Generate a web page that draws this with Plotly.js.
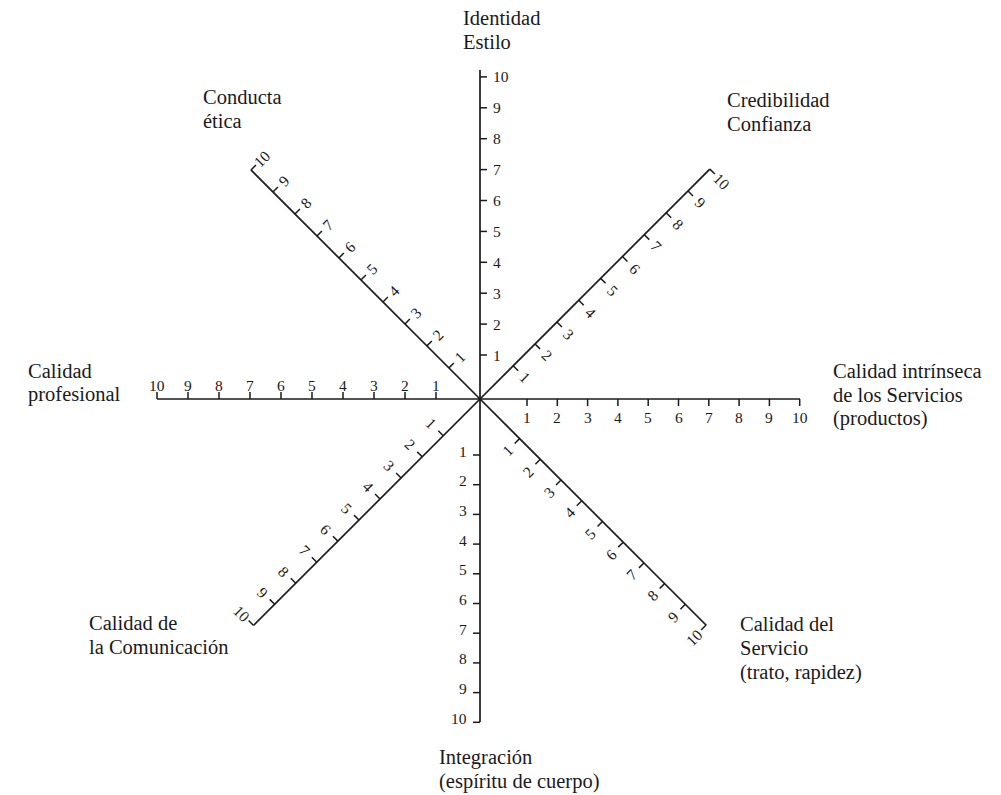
<!DOCTYPE html>
<html><head><meta charset="utf-8">
<script src="https://cdn.plot.ly/plotly-3.0.1.min.js"></script>
<style>html,body{margin:0;padding:0;background:#fff}#chart{width:1001px;height:795px}</style>
</head><body><div id="chart"></div>
<script>
// ---- data ----
const axisNames = ["Identidad","Credibilidad","Calidad intrínseca","Calidad del Servicio","Integración","Calidad de la Comunicación","Calidad profesional","Conducta ética"];
const axisLabelLines = [
  ["Identidad","Estilo"],
  ["Credibilidad","Confianza"],
  ["Calidad intrínseca","de los Servicios","(productos)"],
  ["Calidad del","Servicio","(trato, rapidez)"],
  ["Integración","(espíritu de cuerpo)"],
  ["Calidad de","la Comunicación"],
  ["Calidad","profesional"],
  ["Conducta","ética"]
];
const scaleValues = [1,2,3,4,5,6,7,8,9,10];
const tickLabels = ["1","2","3","4","5","6","7","8","9","10"];

// ---- geometry / style (layout only) ----
const C = {x:480, y:399};
const geom = [
  {a:90,  s0:44, st:30.9, end:329, off:11, xa:'left',   ya:'middle', ta:0,   dy:0},
  {a:45,  s0:47, st:30.9, end:325, off:17, xa:'center', ya:'middle', ta:45,  dy:0},
  {a:0,   s0:47, st:30.3, end:320, off:18, xa:'center', ya:'middle', ta:0,   dy:0},
  {a:-45, s0:56, st:29.3, end:320, off:17, xa:'center', ya:'middle', ta:-45, dy:0},
  {a:-90, s0:56, st:29.7, end:323, off:11, xa:'right',  ya:'middle', ta:0,   dy:-4},
  {a:-135,s0:52, st:29.8, end:320, off:17, xa:'center', ya:'middle', ta:45,  dy:0},
  {a:180, s0:44, st:31.0, end:323, off:14, xa:'center', ya:'middle', ta:0,   dy:0},
  {a:135, s0:44, st:31.1, end:324, off:16, xa:'center', ya:'middle', ta:-45, dy:0}
];
const namePos = [
  {x:461, y:[18,42]},
  {x:725, y:[100,124]},
  {x:831, y:[371,395,418]},
  {x:738, y:[624,648,672]},
  {x:437, y:[757,781]},
  {x:87,  y:[623,647]},
  {x:26,  y:[371,394]},
  {x:201, y:[97,121]}
];
const INK = '#1a1a1a';
const FONT = 'Liberation Serif, Times New Roman, serif';

const lx = [], ly = [], tx = [], ty = [];
const annotations = [];
geom.forEach((g, i) => {
  const r = g.a * Math.PI / 180;
  const d = {x: Math.cos(r), y: -Math.sin(r)};
  const n = {x: -d.y, y: d.x};
  lx.push(C.x, C.x + d.x * g.end, null);
  ly.push(C.y, C.y + d.y * g.end, null);
  scaleValues.forEach((v, k) => {
    const dist = g.s0 + (v - 1) * g.st;
    const px = C.x + d.x * dist, py = C.y + d.y * dist;
    tx.push(px, px + n.x * 7, null);
    ty.push(py, py + n.y * 7, null);
    annotations.push({
      x: px + n.x * g.off, y: py + n.y * g.off + g.dy, xref: 'x', yref: 'y',
      text: tickLabels[k], showarrow: false, xanchor: g.xa, yanchor: g.ya,
      textangle: g.ta, font: {family: FONT, size: 15.5, color: INK}
    });
  });
  axisLabelLines[i].forEach((line, j) => {
    annotations.push({
      x: namePos[i].x, y: namePos[i].y[j], xref: 'x', yref: 'y',
      text: line, showarrow: false, xanchor: 'left', yanchor: 'middle',
      font: {family: FONT, size: 20.5, color: INK}
    });
  });
});

const traces = [
  {x: lx, y: ly, mode: 'lines', line: {color: INK, width: 1.7}, hoverinfo: 'skip', name: 'ejes'},
  {x: tx, y: ty, mode: 'lines', line: {color: INK, width: 1.5}, hoverinfo: 'skip', name: 'marcas'}
];
const layout = {
  width: 1001, height: 795, margin: {l:0, r:0, t:0, b:0},
  paper_bgcolor: '#fff', plot_bgcolor: '#fff', showlegend: false,
  xaxis: {range: [0, 1001], visible: false, fixedrange: true},
  yaxis: {range: [795, 0], visible: false, fixedrange: true},
  annotations: annotations
};
Plotly.newPlot('chart', traces, layout, {displayModeBar: false, staticPlot: true});
</script></body></html>
